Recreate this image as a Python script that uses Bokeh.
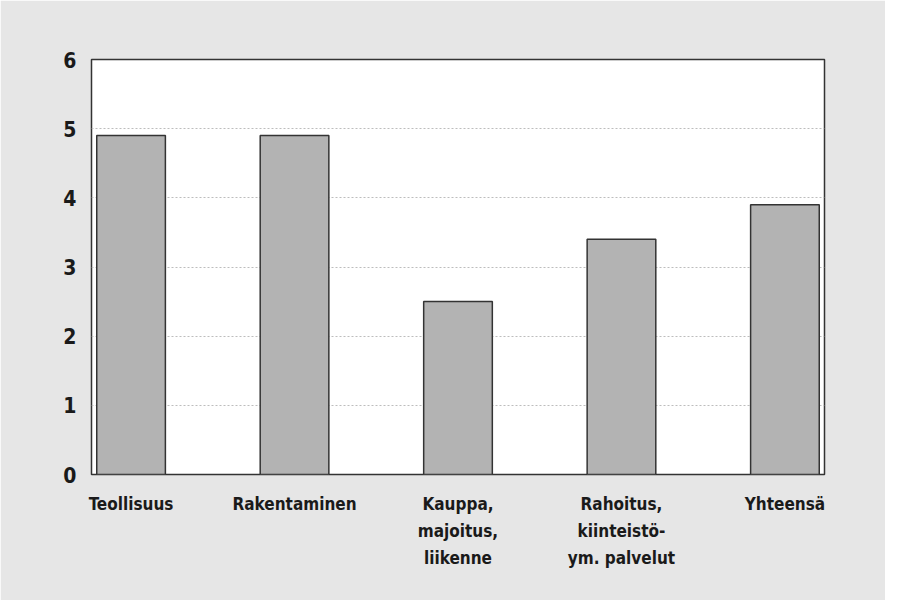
from bokeh.plotting import figure
from bokeh.models import FixedTicker, ColumnDataSource
from bokeh.embed import file_html
from bokeh.resources import INLINE

categories = ["Teollisuus", "Rakentaminen", "Kauppa,\nmajoitus,\nliikenne",
              "Rahoitus,\nkiinteistö-\nym. palvelut", "Yhteensä"]
values = [4.9, 4.9, 2.5, 3.4, 3.9]
y_ticks = [0, 1, 2, 3, 4, 5, 6]

xs = list(range(len(categories)))
src = ColumnDataSource(dict(x=xs, top=values))

BG = "#e6e6e6"
FONT = "DejaVu Sans Condensed, Roboto, sans-serif"

p = figure(width=885, height=600, output_backend="svg", toolbar_location=None,
           x_range=(-0.242, 4.242), y_range=(0, 6),
           background_fill_color="white", border_fill_color=BG,
           min_border_left=91, min_border_right=61, min_border_top=59, min_border_bottom=126)

p.vbar(x="x", top="top", bottom=0, width=0.42, source=src,
       fill_color="#b3b3b3", line_color="#333333", line_width=1.5)

p.outline_line_color = "#333333"
p.outline_line_width = 1.5

p.xgrid.grid_line_color = None
p.ygrid.ticker = FixedTicker(ticks=y_ticks)
p.ygrid.grid_line_color = "#bdbdbd"
p.ygrid.grid_line_dash = "2 2"
p.ygrid.grid_line_width = 1

p.yaxis.ticker = FixedTicker(ticks=y_ticks)
p.yaxis.axis_line_color = None
p.yaxis.major_tick_line_color = None
p.yaxis.minor_tick_line_color = None
p.yaxis.major_label_standoff = 9
p.yaxis.major_label_text_font = FONT
p.yaxis.major_label_text_font_style = "bold"
p.yaxis.major_label_text_font_size = "21px"
p.yaxis.major_label_text_color = "#1a1a1a"

p.xaxis.ticker = FixedTicker(ticks=xs)
p.xaxis.major_label_overrides = {i: c for i, c in enumerate(categories)}
p.xaxis.axis_line_color = None
p.xaxis.major_tick_line_color = None
p.xaxis.minor_tick_line_color = None
p.xaxis.major_label_standoff = 13
p.xaxis.major_label_text_font = FONT
p.xaxis.major_label_text_font_style = "bold"
p.xaxis.major_label_text_font_size = "17px"
p.xaxis.major_label_text_color = "#1a1a1a"
p.xaxis.major_label_text_line_height = 1.35

open("out.html", "w").write(file_html(p, INLINE))
